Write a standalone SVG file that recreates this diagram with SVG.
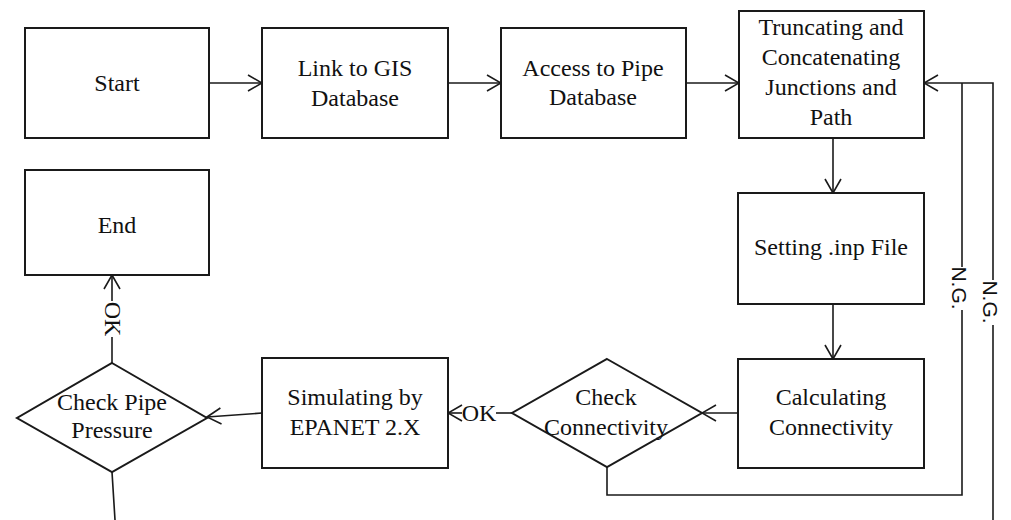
<svg xmlns="http://www.w3.org/2000/svg" width="1011" height="520" viewBox="0 0 1011 520">
<style>
.box{fill:#fff;stroke:#1a1a1a;stroke-width:2}
.t{font-family:"Liberation Serif","Times New Roman",serif;font-size:24px;fill:#111;text-anchor:middle}
.s{font-family:"Liberation Sans",Arial,sans-serif;font-size:21px;fill:#111;text-anchor:middle}
.c{fill:none;stroke:#1a1a1a;stroke-width:1.6}
</style>
<defs>
<marker id="a" viewBox="0 0 16 18" refX="15" refY="9" markerWidth="16" markerHeight="18" markerUnits="userSpaceOnUse" orient="auto">
<path d="M1,1 L15,9 L1,17" fill="none" stroke="#1a1a1a" stroke-width="1.6"/>
</marker>
</defs>
<rect width="1011" height="520" fill="#fff"/>
<g id="start"><rect class="box" x="25" y="28" width="184" height="110"/><text class="t" x="117" y="91">Start</text></g>
<g id="link"><rect class="box" x="262" y="28" width="186" height="110"/><text class="t" x="355" y="76">Link to GIS</text><text class="t" x="355" y="106">Database</text></g>
<g id="access"><rect class="box" x="501" y="28" width="185" height="110"/><text class="t" x="593" y="76">Access to Pipe</text><text class="t" x="593" y="105">Database</text></g>
<g id="truncating"><rect class="box" x="739" y="11" width="185" height="127"/><text class="t" x="831" y="35">Truncating and</text><text class="t" x="831" y="65">Concatenating</text><text class="t" x="831" y="95">Junctions and</text><text class="t" x="831" y="125">Path</text></g>
<g id="setting"><rect class="box" x="738" y="193" width="186" height="111"/><text class="t" x="831" y="255">Setting .inp File</text></g>
<g id="calculating"><rect class="box" x="738" y="359" width="186" height="109"/><text class="t" x="831" y="405">Calculating</text><text class="t" x="831" y="435">Connectivity</text></g>
<g id="checkconn"><polygon class="box" points="607,359 702,413 607,467 512,413"/><text class="t" x="606" y="405">Check</text><text class="t" x="606" y="435">Connectivity</text></g>
<g id="simulating"><rect class="box" x="262" y="358" width="186" height="110"/><text class="t" x="355" y="405">Simulating by</text><text class="t" x="355" y="435">EPANET 2.X</text></g>
<g id="checkpipe"><polygon class="box" points="112,363 207,418 112,472 17,418"/><text class="t" x="112" y="410">Check Pipe</text><text class="t" x="112" y="438">Pressure</text></g>
<g id="end"><rect class="box" x="25" y="170" width="184" height="105"/><text class="t" x="117" y="233">End</text></g>
<g id="connectors">
<line class="c" x1="209" y1="83" x2="262" y2="83" marker-end="url(#a)"/>
<line class="c" x1="448" y1="83" x2="501" y2="83" marker-end="url(#a)"/>
<line class="c" x1="686" y1="83" x2="739" y2="83" marker-end="url(#a)"/>
<line class="c" x1="833" y1="138" x2="833" y2="193" marker-end="url(#a)"/>
<line class="c" x1="833" y1="304" x2="833" y2="359" marker-end="url(#a)"/>
<line class="c" x1="738" y1="413" x2="702" y2="413" marker-end="url(#a)"/>
<line class="c" x1="512" y1="413" x2="496" y2="413"/>
<line class="c" x1="462" y1="413" x2="448" y2="413" marker-end="url(#a)"/>
<text class="t" x="479" y="421">OK</text>
<line class="c" x1="262" y1="413" x2="207" y2="417" marker-end="url(#a)"/>
<line class="c" x1="112" y1="363" x2="112" y2="337"/>
<line class="c" x1="112" y1="301" x2="112" y2="275" marker-end="url(#a)"/>
<text class="t" transform="translate(105,319) rotate(90)" x="0" y="0">OK</text>
<line class="c" x1="112" y1="472" x2="115" y2="520"/>
<polyline class="c" points="607,467 607,495 962,495 962,310"/>
<line class="c" x1="962" y1="267" x2="962" y2="83"/>
<text class="s" transform="translate(952,288) rotate(90)" x="0" y="0">N.G.</text>
<polyline class="c" points="993,520 993,325"/>
<polyline class="c" points="993,280 993,83 924,83" marker-end="url(#a)"/>
<text class="s" transform="translate(983,302) rotate(90)" x="0" y="0">N.G.</text>
</g>
</svg>
